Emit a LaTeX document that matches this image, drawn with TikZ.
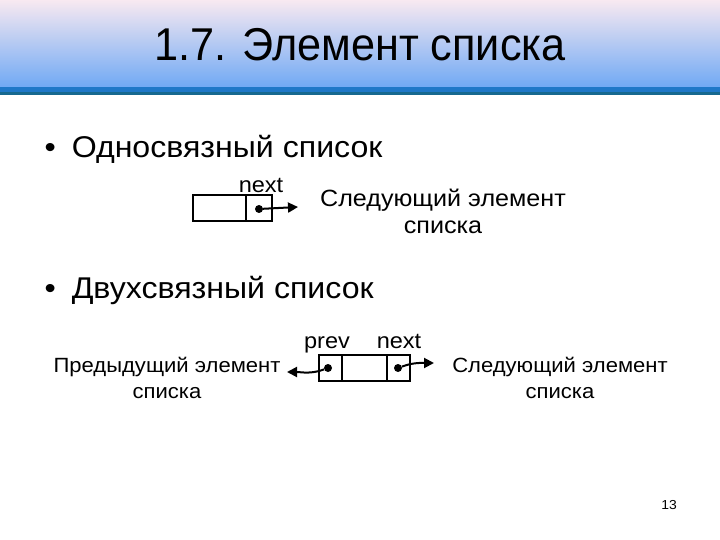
\documentclass[tikz,border=0pt]{standalone}
\usepackage{fontspec}
\setmainfont[FakeStretch=1.07]{Liberation Sans}
\newfontfamily\titlefont[FakeStretch=0.94]{Liberation Sans}
\usetikzlibrary{arrows.meta,positioning}
\definecolor{bandtop}{HTML}{F8E9F1}
\definecolor{bandbot}{HTML}{70A9F4}
\definecolor{bandline}{HTML}{1F78C8}
\definecolor{bandedge}{HTML}{17698F}
\begin{document}
\begin{tikzpicture}[x=1pt,y=-1pt,
  cell/.style={draw,line width=2.2pt,inner sep=0pt,outer sep=0pt,minimum height=26pt},
  ptr/.style={circle,fill,inner sep=0pt,minimum size=8pt},
  link/.style={line width=2pt,-{Triangle[length=10pt,width=10pt]}},
  big/.style={font=\fontsize{30}{32}\selectfont,anchor=west},
  lbl/.style={font=\fontsize{23.5}{27}\selectfont,align=center},
  lbltwo/.style={font=\fontsize{20.6}{26}\selectfont,align=center},
  fld/.style={font=\fontsize{22}{24}\selectfont,anchor=base}]
\useasboundingbox (0,0) rectangle (720,540);
\shade[top color=bandtop,bottom color=bandbot] (0,0) rectangle (720,87);
\fill[bandline] (0,87) rectangle (720,92);
\fill[bandedge] (0,92) rectangle (720,95);
\node (title) at (360,45) {\titlefont\fontsize{46}{50}\selectfont 1.7. Элемент списка};
\node[big] (b1) at (41,149) {•\hspace{16pt}Односвязный список};
\node[big] (b2) at (41,290) {•\hspace{16pt}Двухсвязный список};
\node[cell,minimum width=53pt,anchor=west] (sa) at (193,208) {};
\node[cell,minimum width=26pt,right=0pt of sa] (sb) {};
\node[ptr] (sp) at (259,209) {};
\coordinate (se) at (298,207);
\draw[link] (sp) -- (se);
\node[fld] (snext) at (261,193) {next};
\node[lbl] (snexttxt) at (443,211) {Следующий элемент\\списка};
\node[cell,minimum width=23pt,anchor=west] (da) at (319,368) {};
\node[cell,minimum width=45pt,right=0pt of da] (db) {};
\node[cell,minimum width=23pt,right=0pt of db] (dc) {};
\node[ptr] (dp) at (328,368) {};
\node[ptr] (dn) at (398,368) {};
\coordinate (de1) at (287,372);
\coordinate (de2) at (434,363);
\draw[link] (dp) to[out=200,in=0] (de1);
\draw[link] (dn) to[out=20,in=180] (de2);
\node[fld] (dprev) at (327,348) {prev};
\node[fld] (dnext) at (399,348) {next};
\node[lbltwo] (dprevtxt) at (167,378) {Предыдущий элемент\\списка};
\node[lbltwo] (dnexttxt) at (560,378) {Следующий элемент\\списка};
\node (page) at (669,505) {\fontsize{13}{15}\selectfont 13};
\end{tikzpicture}
\end{document}
